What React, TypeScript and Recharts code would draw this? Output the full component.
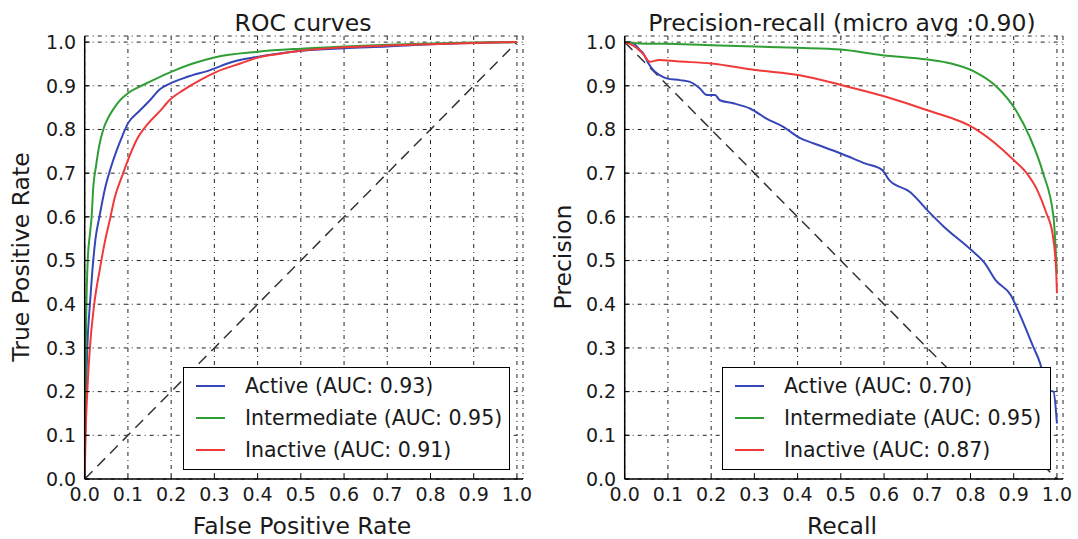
import { LineChart, Line, XAxis, YAxis, CartesianGrid, Legend } from "recharts";

const FONT = "'DejaVu Sans', sans-serif";

const axisTicks = [0, 0.1, 0.2, 0.3, 0.4, 0.5, 0.6, 0.7, 0.8, 0.9, 1.0];
const axisMax = 1.014;

// ROC curves
const rocActiveFpr = [0, 0.001, 0.003, 0.006, 0.012, 0.018, 0.025, 0.034, 0.047, 0.058, 0.075, 0.087, 0.1, 0.124, 0.151, 0.174, 0.197, 0.236, 0.29, 0.343, 0.398, 0.45, 0.5, 0.6, 0.7, 0.8, 0.9, 1];
const rocActiveTpr = [0, 0.1, 0.2, 0.3, 0.4, 0.48, 0.55, 0.6, 0.665, 0.705, 0.755, 0.785, 0.814, 0.84, 0.867, 0.892, 0.905, 0.92, 0.936, 0.955, 0.966, 0.974, 0.98, 0.986, 0.99, 0.995, 0.998, 1];

const rocInterFpr = [0, 0.001, 0.002, 0.004, 0.007, 0.012, 0.016, 0.02, 0.026, 0.034, 0.043, 0.055, 0.066, 0.08, 0.1, 0.125, 0.15, 0.2, 0.25, 0.3, 0.4, 0.5, 0.6, 0.7, 0.8, 0.9, 1];
const rocInterTpr = [0, 0.1, 0.25, 0.4, 0.5, 0.56, 0.6, 0.67, 0.715, 0.765, 0.8, 0.828, 0.846, 0.865, 0.883, 0.897, 0.909, 0.932, 0.951, 0.965, 0.978, 0.985, 0.99, 0.994, 0.997, 0.999, 1];

const rocInactiveFpr = [0, 0.002, 0.006, 0.012, 0.022, 0.035, 0.046, 0.058, 0.07, 0.086, 0.1, 0.12, 0.147, 0.174, 0.197, 0.228, 0.267, 0.305, 0.36, 0.405, 0.45, 0.5, 0.6, 0.7, 0.8, 0.9, 1];
const rocInactiveTpr = [0, 0.1, 0.2, 0.3, 0.4, 0.48, 0.54, 0.593, 0.646, 0.692, 0.73, 0.776, 0.814, 0.842, 0.868, 0.89, 0.913, 0.932, 0.951, 0.966, 0.973, 0.98, 0.988, 0.992, 0.995, 0.998, 1];

// Precision-recall curves
const prActiveRecall = [0, 0.005, 0.02, 0.035, 0.043, 0.055, 0.07, 0.082, 0.097, 0.128, 0.151, 0.174, 0.19, 0.209, 0.22, 0.251, 0.29, 0.328, 0.367, 0.406, 0.438, 0.5, 0.557, 0.596, 0.612, 0.66, 0.707, 0.739, 0.802, 0.833, 0.858, 0.893, 0.913, 0.945, 0.961, 0.976, 0.992, 1];
const prActivePrecision = [1, 1, 0.997, 0.982, 0.974, 0.951, 0.932, 0.924, 0.917, 0.913, 0.909, 0.894, 0.879, 0.879, 0.867, 0.86, 0.848, 0.825, 0.806, 0.78, 0.768, 0.745, 0.722, 0.707, 0.684, 0.657, 0.608, 0.577, 0.524, 0.494, 0.455, 0.421, 0.379, 0.303, 0.265, 0.204, 0.2, 0.127];

const prInterRecall = [0, 0.034, 0.1, 0.2, 0.3, 0.4, 0.5, 0.596, 0.7, 0.755, 0.81, 0.858, 0.905, 0.937, 0.968, 0.992, 1];
const prInterPrecision = [1.0, 0.997, 0.996, 0.993, 0.99, 0.987, 0.983, 0.97, 0.96, 0.951, 0.932, 0.9, 0.844, 0.783, 0.7, 0.6, 0.47];

const prInactiveRecall = [0, 0.018, 0.042, 0.058, 0.08, 0.12, 0.2, 0.303, 0.405, 0.5, 0.604, 0.7, 0.81, 0.873, 0.9, 0.93, 0.955, 0.975, 0.99, 0.998, 1];
const prInactivePrecision = [1, 0.993, 0.974, 0.955, 0.959, 0.956, 0.951, 0.936, 0.924, 0.902, 0.875, 0.844, 0.802, 0.755, 0.73, 0.7, 0.66, 0.61, 0.56, 0.48, 0.425];

const diagX = [0, 1];
const rocDiagY = [0, 1];
const prDiagY = [1, 0];

const seriesNames = ["Active", "Intermediate", "Inactive"];
const seriesColors = ["#3546b8", "#2f9f35", "#f03a3a"];
const rocAuc = ["0.93", "0.95", "0.91"];
const prAuc = ["0.70", "0.95", "0.87"];

const toPoints = (xs: number[], ys: number[]) => xs.map((x, i) => ({ x, y: ys[i] }));

const rocSeries = [
  toPoints(rocActiveFpr, rocActiveTpr),
  toPoints(rocInterFpr, rocInterTpr),
  toPoints(rocInactiveFpr, rocInactiveTpr),
];
const prSeries = [
  toPoints(prActiveRecall, prActivePrecision),
  toPoints(prInterRecall, prInterPrecision),
  toPoints(prInactiveRecall, prInactivePrecision),
];

const tickStyle = { fill: "#1a1a1a", fontSize: 19, fontFamily: FONT };
const fmt = (v: number) => v.toFixed(1);

function makeLegend(width: number) {
  return (props: any) => {
    const items = (props.payload || [])
      .filter((p: any) => p.value !== "diag")
      .sort(
        (a: any, b: any) =>
          seriesNames.indexOf(String(a.value).split(" ")[0]) - seriesNames.indexOf(String(b.value).split(" ")[0])
      );
    return (
      <div
        style={{
          width,
          height: 103,
          boxSizing: "border-box",
          border: "1.5px solid #000",
          background: "#fff",
          paddingTop: 2,
          fontFamily: FONT,
          fontSize: 20.5,
          color: "#1a1a1a",
        }}
      >
        {items.map((it: any) => (
          <div key={it.value} style={{ display: "flex", alignItems: "center", height: 32 }}>
            <span style={{ marginLeft: 12, width: 29, height: 2, background: it.color, display: "inline-block" }} />
            <span style={{ marginLeft: 20, whiteSpace: "nowrap" }}>{it.value}</span>
          </div>
        ))}
      </div>
    );
  };
}

function Panel(props: {
  left: number;
  width: number;
  series: { x: number; y: number }[][];
  auc: string[];
  diag: { x: number; y: number }[];
  legendLeft: number;
  legendWidth: number;
}) {
  const { left, width, series, auc, diag, legendLeft, legendWidth } = props;
  return (
    <div style={{ position: "absolute", left, top: 0 }}>
      <LineChart width={width} height={539} margin={{ top: 36, right: width - 523, bottom: 30, left: 0 }}>
        <CartesianGrid stroke="#222" strokeWidth={1} strokeDasharray="4 4 1 4" />
        <XAxis
          type="number"
          dataKey="x"
          domain={[0, axisMax]}
          ticks={axisTicks}
          tickFormatter={fmt}
          height={30}
          tick={tickStyle}
          tickSize={-5}
          tickMargin={14}
          axisLine={{ stroke: "#000", strokeWidth: 1.5 }}
          tickLine={{ stroke: "#000" }}
          allowDataOverflow
        />
        <XAxis
          xAxisId="top"
          orientation="top"
          type="number"
          dataKey="x"
          domain={[0, axisMax]}
          ticks={axisTicks}
          height={0}
          tick={false}
          tickSize={-5}
          axisLine={{ stroke: "#000", strokeWidth: 1.5 }}
          tickLine={{ stroke: "#000" }}
          allowDataOverflow
        />
        <YAxis
          type="number"
          domain={[0, axisMax]}
          ticks={axisTicks}
          tickFormatter={fmt}
          width={84.7}
          tick={tickStyle}
          tickSize={-5}
          tickMargin={13.5}
          axisLine={{ stroke: "#000", strokeWidth: 1.5 }}
          tickLine={{ stroke: "#000" }}
          allowDataOverflow
        />
        <YAxis
          yAxisId="right"
          orientation="right"
          type="number"
          domain={[0, axisMax]}
          ticks={axisTicks}
          width={0}
          tick={false}
          tickSize={-5}
          axisLine={{ stroke: "#000", strokeWidth: 1.5 }}
          tickLine={{ stroke: "#000" }}
          allowDataOverflow
        />
        <Line
          data={diag}
          dataKey="y"
          name="diag"
          legendType="none"
          stroke="#333"
          strokeWidth={1.5}
          strokeDasharray="11 7"
          dot={false}
          isAnimationActive={false}
        />
        {series.map((pts, i) => (
          <Line
            key={seriesNames[i]}
            type="monotone"
            data={pts}
            dataKey="y"
            name={`${seriesNames[i]} (AUC: ${auc[i]})`}
            stroke={seriesColors[i]}
            strokeWidth={2}
            dot={false}
            isAnimationActive={false}
          />
        ))}
        <Legend
          layout="vertical"
          align="center"
          verticalAlign="middle"
          content={makeLegend(legendWidth)}
          wrapperStyle={{ left: legendLeft, top: 367, width: legendWidth, height: 103 }}
        />
      </LineChart>
    </div>
  );
}

const centered = (x: number, y: number, size: number, rotate = false): React.CSSProperties => ({
  position: "absolute",
  left: x,
  top: y,
  transform: `translate(-50%, -50%)${rotate ? " rotate(-90deg)" : ""}`,
  whiteSpace: "nowrap",
  fontFamily: FONT,
  fontSize: size,
  color: "#1a1a1a",
  lineHeight: "normal",
});

export default function App() {
  return (
    <div style={{ position: "absolute", left: 0, top: 0, width: 1078, height: 539, background: "#fff" }}>
      <Panel left={0} width={540} series={rocSeries} auc={rocAuc} diag={toPoints(diagX, rocDiagY)} legendLeft={183} legendWidth={327} />
      <Panel left={540} width={539} series={prSeries} auc={prAuc} diag={toPoints(diagX, prDiagY)} legendLeft={182} legendWidth={329} />
      <div style={centered(303, 23, 23.5)}>ROC curves</div>
      <div style={centered(842, 23, 23.5)}>Precision-recall (micro avg :0.90)</div>
      <div style={centered(302, 526, 23.5)}>False Positive Rate</div>
      <div style={centered(842, 526, 23.5)}>Recall</div>
      <div style={centered(21, 257, 23.5, true)}>True Positive Rate</div>
      <div style={centered(563, 257, 23.5, true)}>Precision</div>
    </div>
  );
}
